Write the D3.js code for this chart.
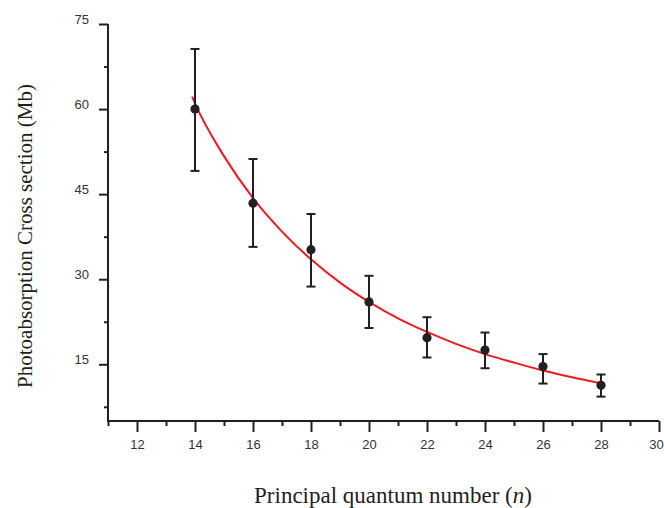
<!DOCTYPE html>
<html>
<head>
<meta charset="utf-8">
<script src="https://cdn.jsdelivr.net/npm/d3@7/dist/d3.min.js"></script>
<style>
  html, body { margin: 0; padding: 0; background: #fff; }
  svg { display: block; }
</style>
</head>
<body>
<svg id="chart" width="664" height="508"></svg>
<script>
// Principal quantum number n for each measured point
const nValues = [14, 16, 18, 20, 22, 24, 26, 28];
// Photoabsorption cross section (Mb)
const sigma = [60.0, 43.4, 35.2, 26.0, 19.7, 17.5, 14.6, 11.3];
// Lower / upper ends of the error bars (Mb)
const sigmaLow  = [49.1, 35.7, 28.7, 21.4, 16.2, 14.3, 11.6, 9.3];
const sigmaHigh = [70.6, 51.2, 41.5, 30.6, 23.3, 20.6, 16.8, 13.2];
// Fitted curve through the points
const fitN     = [13.9, 14, 15, 16, 17, 18, 19, 20, 21, 22, 23, 24, 25, 26, 27, 28];
const fitSigma = [62.2, 61.0, 51.7, 44.3, 38.4, 33.5, 29.4, 26.0, 23.1, 20.7, 18.6, 16.8, 15.3, 13.9, 12.7, 11.65];
// Axis ticks
const xMajor = [12, 14, 16, 18, 20, 22, 24, 26, 28, 30];
const xMinor = [11, 13, 15, 17, 19, 21, 23, 25, 27, 29];
const yMajor = [15, 30, 45, 60, 75];
const yMinor = [7.5, 22.5, 37.5, 52.5, 67.5];

const svg = d3.select("#chart");
const plotLeft = 108, plotRight = 659, plotTop = 24, plotBottom = 421;

const x = d3.scaleLinear().domain([11, 30]).range([plotLeft, plotRight]);
const y = d3.scaleLinear().domain([5, 75]).range([plotBottom, plotTop]);

const axisColor = "#231f20";
const tickFont = "'Liberation Sans', Arial, sans-serif";

// Y axis
const gy = svg.append("g").attr("transform", `translate(${plotLeft},0)`);
gy.call(d3.axisLeft(y).tickValues(yMajor).tickSize(9).tickSizeOuter(0).tickFormat(d3.format("d")));
gy.append("g").call(d3.axisLeft(y).tickValues(yMinor).tickSize(4).tickSizeOuter(0).tickFormat(""))
  .select(".domain").remove();
gy.selectAll(".domain").attr("stroke", axisColor).attr("stroke-width", 2)
  .attr("d", `M0,${plotTop}V${plotBottom}`);
gy.selectAll(".tick line").attr("stroke", axisColor).attr("stroke-width", 2);
gy.selectAll(".tick text")
  .attr("x", -19).attr("dy", "-0.05em")
  .attr("fill", "#333").style("font-family", tickFont).style("font-size", "13px");

// X axis
const gx = svg.append("g").attr("transform", `translate(0,${plotBottom})`);
gx.call(d3.axisBottom(x).tickValues(xMajor).tickSize(11).tickSizeOuter(0).tickFormat(d3.format("d")));
gx.append("g").call(d3.axisBottom(x).tickValues(xMinor).tickSize(5).tickSizeOuter(0).tickFormat(""))
  .select(".domain").remove();
gx.selectAll(".domain").attr("stroke", axisColor).attr("stroke-width", 2)
  .attr("d", `M${plotLeft - 1},0H${plotRight}`);
gx.selectAll(".tick line").attr("stroke", axisColor).attr("stroke-width", 2);
gx.selectAll(".tick text")
  .attr("y", 19)
  .attr("fill", "#333").style("font-family", tickFont).style("font-size", "13px")
  .attr("dx", d => d === 30 ? -3 : 0);

// Fit curve
const fit = fitN.map((n, i) => [n, fitSigma[i]]);
svg.append("path")
  .datum(fit)
  .attr("fill", "none")
  .attr("stroke", "#ec1c24")
  .attr("stroke-width", 2)
  .attr("d", d3.line().x(d => x(d[0])).y(d => y(d[1])).curve(d3.curveMonotoneX));

// Error bars
const pts = nValues.map((n, i) => ({ n, s: sigma[i], lo: sigmaLow[i], hi: sigmaHigh[i] }));
const eb = svg.append("g").attr("stroke", "#231f20").attr("stroke-width", 2);
eb.selectAll(".stem").data(pts).join("line")
  .attr("x1", d => x(d.n)).attr("x2", d => x(d.n))
  .attr("y1", d => y(d.lo)).attr("y2", d => y(d.hi));
eb.selectAll(".capHi").data(pts).join("line")
  .attr("x1", d => x(d.n) - 4.5).attr("x2", d => x(d.n) + 4.5)
  .attr("y1", d => y(d.hi)).attr("y2", d => y(d.hi));
eb.selectAll(".capLo").data(pts).join("line")
  .attr("x1", d => x(d.n) - 4.5).attr("x2", d => x(d.n) + 4.5)
  .attr("y1", d => y(d.lo)).attr("y2", d => y(d.lo));

// Data points
svg.append("g").selectAll("circle").data(pts).join("circle")
  .attr("cx", d => x(d.n)).attr("cy", d => y(d.s)).attr("r", 4.6)
  .attr("fill", "#231f20");

// Axis titles
svg.append("text")
  .attr("transform", "translate(32,236) rotate(-90)")
  .attr("text-anchor", "middle")
  .style("font-family", "'Liberation Serif', 'Times New Roman', serif")
  .style("font-size", "21px").attr("fill", "#231f20")
  .text("Photoabsorption Cross section (Mb)");

const xt = svg.append("text")
  .attr("x", 393).attr("y", 503)
  .attr("text-anchor", "middle")
  .style("font-family", "'Liberation Serif', 'Times New Roman', serif")
  .style("font-size", "23px").attr("fill", "#231f20");
xt.append("tspan").text("Principal quantum number (");
xt.append("tspan").style("font-style", "italic").text("n");
xt.append("tspan").text(")");
</script>
</body>
</html>
